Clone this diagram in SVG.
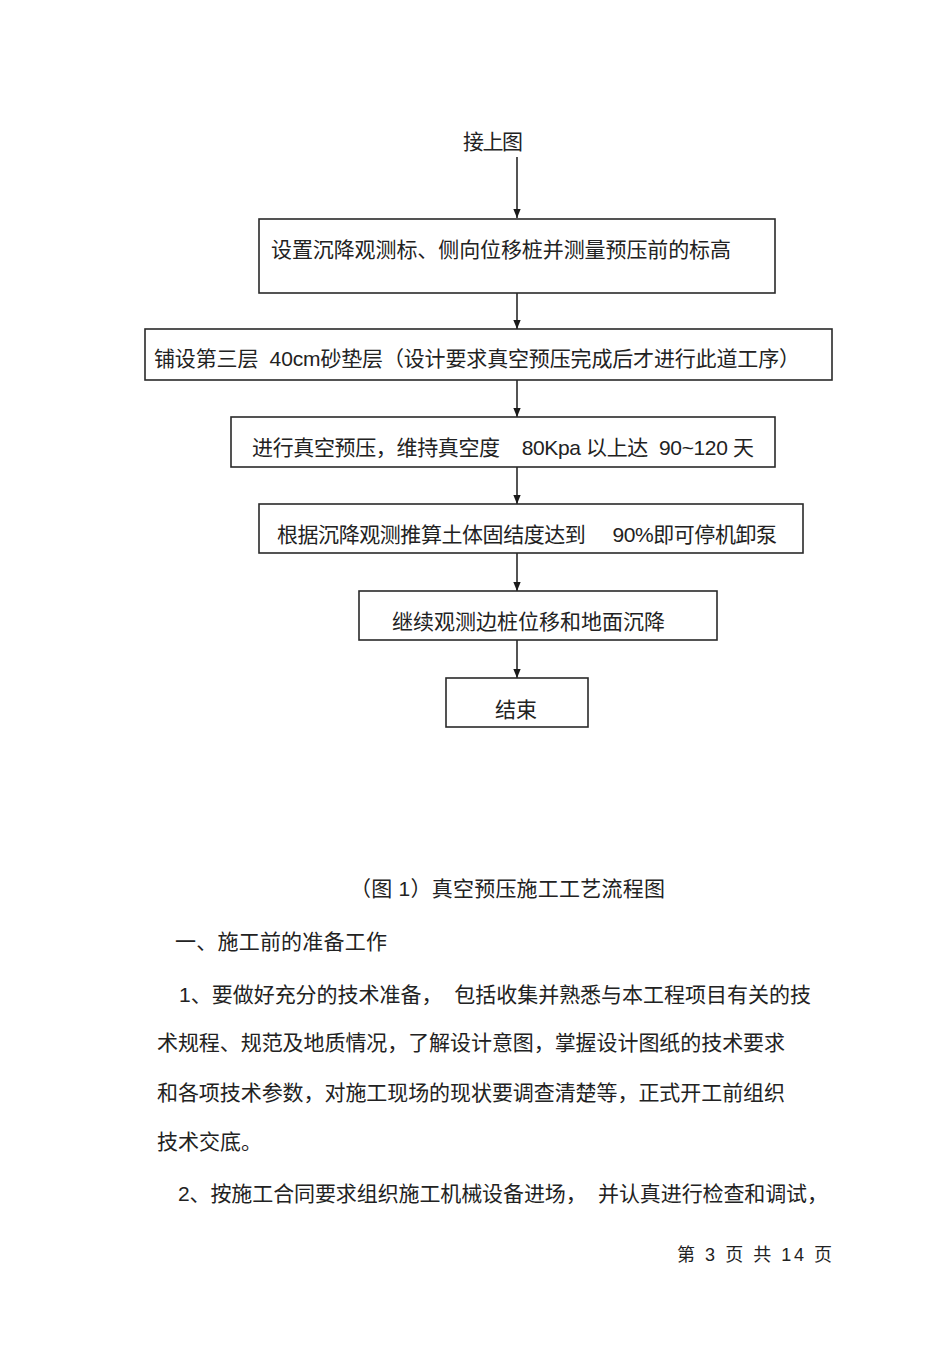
<svg xmlns="http://www.w3.org/2000/svg" width="950" height="1345" viewBox="0 0 950 1345">
<style>
.t{font-family:"Liberation Sans","Noto Sans CJK SC",sans-serif;font-size:21px;fill:#222;white-space:pre}
.f{font-size:18px}
.box{fill:#fff;stroke:#2a2a2a;stroke-width:1.6}
.c{stroke:#2a2a2a;stroke-width:1.6;fill:none;marker-end:url(#ah)}
</style>
<defs>
<marker id="ah" markerUnits="userSpaceOnUse" markerWidth="10" markerHeight="12" refX="11" refY="5" orient="auto" viewBox="0 0 12 10">
<path d="M0,0.5 L11,5 L0,9.5 Z" fill="#1a1a1a"/>
</marker>
</defs>
<rect width="950" height="1345" fill="#fff"/>
<g id="connectors">
<path class="c" d="M517,157 V218"/>
<path class="c" d="M517,293 V329"/>
<path class="c" d="M517,380 V417"/>
<path class="c" d="M517,467 V504"/>
<path class="c" d="M517,553 V591"/>
<path class="c" d="M517,640 V678"/>
</g>
<g id="start"><text class="t" x="463" y="149" textLength="60">接上图</text></g>
<g id="n1"><rect class="box" x="259" y="219" width="516" height="74"/><text class="t" x="271" y="257" textLength="460">设置沉降观测标、侧向位移桩并测量预压前的标高</text></g>
<g id="n2"><rect class="box" x="145" y="329" width="687" height="51"/><text class="t" x="154" y="366" textLength="646">铺设第三层  40cm砂垫层（设计要求真空预压完成后才进行此道工序）</text></g>
<g id="n3"><rect class="box" x="231" y="417" width="544" height="50"/><text class="t" x="252" y="455" textLength="502">进行真空预压，维持真空度    80Kpa 以上达  90~120 天</text></g>
<g id="n4"><rect class="box" x="259" y="504" width="544" height="49"/><text class="t" x="277" y="542" textLength="500">根据沉降观测推算土体固结度达到     90%即可停机卸泵</text></g>
<g id="n5"><rect class="box" x="359" y="591" width="358" height="49"/><text class="t" x="392" y="629" textLength="273">继续观测边桩位移和地面沉降</text></g>
<g id="n6"><rect class="box" x="446" y="678" width="142" height="49"/><text class="t" x="495" y="717" textLength="42">结束</text></g>
<g id="body">
<text class="t" x="350" y="896" textLength="315">（图 1）真空预压施工工艺流程图</text>
<text class="t" x="175" y="949" textLength="212">一、施工前的准备工作</text>
<text class="t" x="179" y="1002" textLength="632">1、要做好充分的技术准备，  包括收集并熟悉与本工程项目有关的技</text>
<text class="t" x="157" y="1050" textLength="628">术规程、规范及地质情况，了解设计意图，掌握设计图纸的技术要求</text>
<text class="t" x="157" y="1100" textLength="628">和各项技术参数，对施工现场的现状要调查清楚等，正式开工前组织</text>
<text class="t" x="157" y="1149" textLength="105">技术交底。</text>
<text class="t" x="178" y="1201" textLength="650">2、按施工合同要求组织施工机械设备进场，  并认真进行检查和调试，</text>
<text class="t f" x="677" y="1261" textLength="155">第 3 页 共 14 页</text>
</g>
</svg>
